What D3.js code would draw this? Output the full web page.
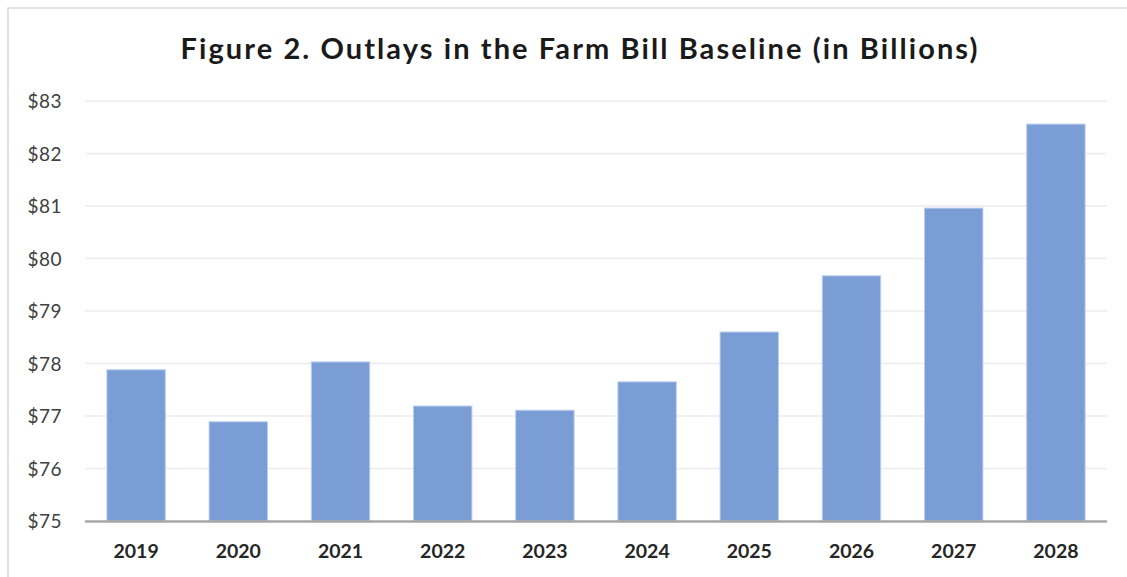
<!DOCTYPE html>
<html><head><meta charset="utf-8">
<script src="https://cdn.jsdelivr.net/npm/d3@7/dist/d3.min.js"></script>
<style>html,body{margin:0;padding:0;background:#fff;}svg{display:block;}</style>
</head><body>
<script>
const categories = ["2019","2020","2021","2022","2023","2024","2025","2026","2027","2028"];
const outlays = [77.88, 76.89, 78.03, 77.19, 77.11, 77.65, 78.6, 79.67, 80.96, 82.56];
const yTicks = [75, 76, 77, 78, 79, 80, 81, 82, 83];
const title = "Figure 2. Outlays in the Farm Bill Baseline (in Billions)";

const W = 1127, H = 577;
const svg = d3.select("body").append("svg").attr("width", W).attr("height", H);
svg.append("rect").attr("x", 0).attr("y", 0).attr("width", W).attr("height", H).attr("fill", "#fff");
// chart frame
svg.append("rect").attr("x", 8).attr("y", 8).attr("width", W + 10).attr("height", H + 10)
  .attr("fill", "none").attr("stroke", "#d9d9d9").attr("stroke-width", 1.5);

const x = d3.scaleBand().domain(categories).range([85, 1107]).paddingInner(0.4286).paddingOuter(0.2143);
const y = d3.scaleLinear().domain([75, 83]).range([521, 101]);

// gridlines
svg.append("g").selectAll("line").data(yTicks.slice(1)).join("line")
  .attr("x1", 85).attr("x2", 1107).attr("y1", d => y(d)).attr("y2", d => y(d))
  .attr("stroke", "#ececec").attr("stroke-width", 1.5);

// bars
svg.append("g").selectAll("rect").data(outlays).join("rect")
  .attr("x", (d, i) => x(categories[i]))
  .attr("width", x.bandwidth())
  .attr("y", d => y(d))
  .attr("height", d => y(75) - y(d))
  .attr("fill", "#7b9dd5").attr("stroke", "#b9cdee").attr("stroke-width", 1);

// x axis line
svg.append("line").attr("x1", 85).attr("x2", 1107).attr("y1", y(75) + 0.5).attr("y2", y(75) + 0.5)
  .attr("stroke", "#a6a6a6").attr("stroke-width", 2.5);

// y axis labels
const yAxis = d3.axisLeft(y).tickValues(yTicks).tickSize(0).tickPadding(0).tickFormat(d => "$" + d);
const gy = svg.append("g").attr("transform", "translate(62,0)").call(yAxis);
gy.select(".domain").remove();
gy.selectAll("text").attr("font-family", "Lato, 'Open Sans', sans-serif").attr("font-size", 19)
  .attr("fill", "#404040").attr("letter-spacing", "0.5px").attr("dy", "0.35em");

// x axis labels
const xAxis = d3.axisBottom(x).tickSize(0).tickPadding(0);
const gx = svg.append("g").attr("transform", "translate(0,551)").call(xAxis);
gx.select(".domain").remove();
gx.selectAll("text").attr("font-family", "Lato, 'Open Sans', sans-serif").attr("font-size", 19.5)
  .attr("font-weight", "bold").attr("fill", "#262626").attr("dy", "0.35em");

// title
svg.append("text").attr("x", 579).attr("y", 59).attr("text-anchor", "middle")
  .attr("font-family", "Lato, 'Open Sans', sans-serif").attr("font-size", 29).attr("font-weight", "bold")
  .attr("fill", "#1a1a1a").attr("textLength", 797).attr("lengthAdjust", "spacing")
  .text(title);
</script>
</body></html>
